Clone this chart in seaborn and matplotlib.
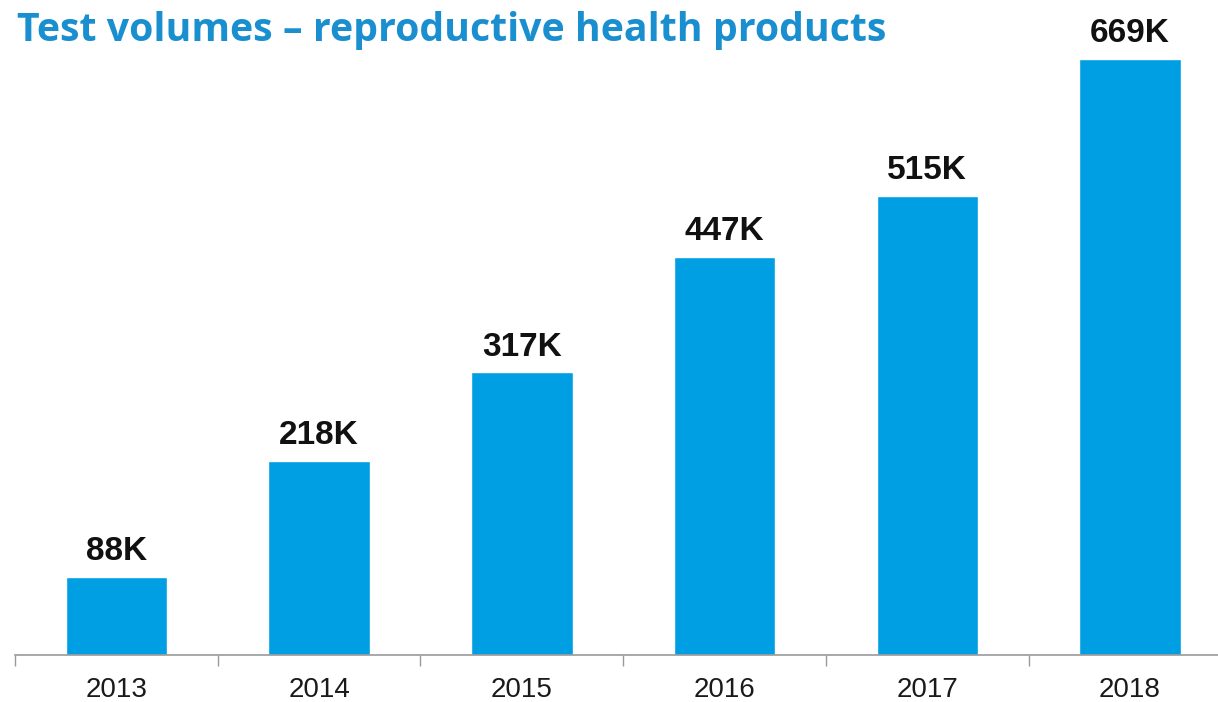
import matplotlib
matplotlib.use("Agg")
import matplotlib.pyplot as plt
import seaborn as sns
import pandas as pd
import numpy as np

years = ["2013", "2014", "2015", "2016", "2017", "2018"]
volumes_k = [88, 218, 317, 447, 515, 669]
value_labels = ["88K", "218K", "317K", "447K", "515K", "669K"]

title = "Test volumes \u2013 reproductive health products"

sns.set_theme(style="white")
plt.rcParams["font.family"] = ["Liberation Sans", "DejaVu Sans"]

df = pd.DataFrame({"year": years, "volume": volumes_k})

fig = plt.figure(figsize=(12.18, 7.02), dpi=100)
ax = fig.add_axes([15 / 1218, 47 / 702, (1218 - 15) / 1218, (655 - 40) / 702])

bar_color = "#009fe3"
sns.barplot(data=df, x="year", y="volume", color=bar_color, width=0.5,
            saturation=1, ax=ax)

ax.set_xlim(-0.5, 5.434)
ax.set_ylim(0, 690)

for i, (v, lab) in enumerate(zip(volumes_k, value_labels)):
    ax.annotate(lab, (i, v), xytext=(0, 7), textcoords="offset points",
                ha="center", va="bottom", fontsize=24, fontweight="bold",
                color="#111111")

for s in ["top", "right", "left"]:
    ax.spines[s].set_visible(False)
ax.spines["bottom"].set_color("#9a9a9a")
ax.spines["bottom"].set_linewidth(1.2)

ax.set_yticks([])
ax.set_xlabel("")
ax.set_ylabel("")
ax.tick_params(axis="x", which="major", bottom=False, length=0, pad=16,
               labelsize=20, labelcolor="#1a1a1a")
ax.set_xticks(np.arange(-0.5, 5.5, 1.0), minor=True)
ax.tick_params(axis="x", which="minor", bottom=True, length=8, width=1,
               color="#9a9a9a", direction="out")

fig.text(17 / 1218, 1 - 31 / 702, title, ha="left", va="center",
         fontsize=28.3, fontweight="bold", color="#1a8fd0",
         family=["Open Sans", "DejaVu Sans"])

fig.savefig("out.png", dpi=100, facecolor="white")
